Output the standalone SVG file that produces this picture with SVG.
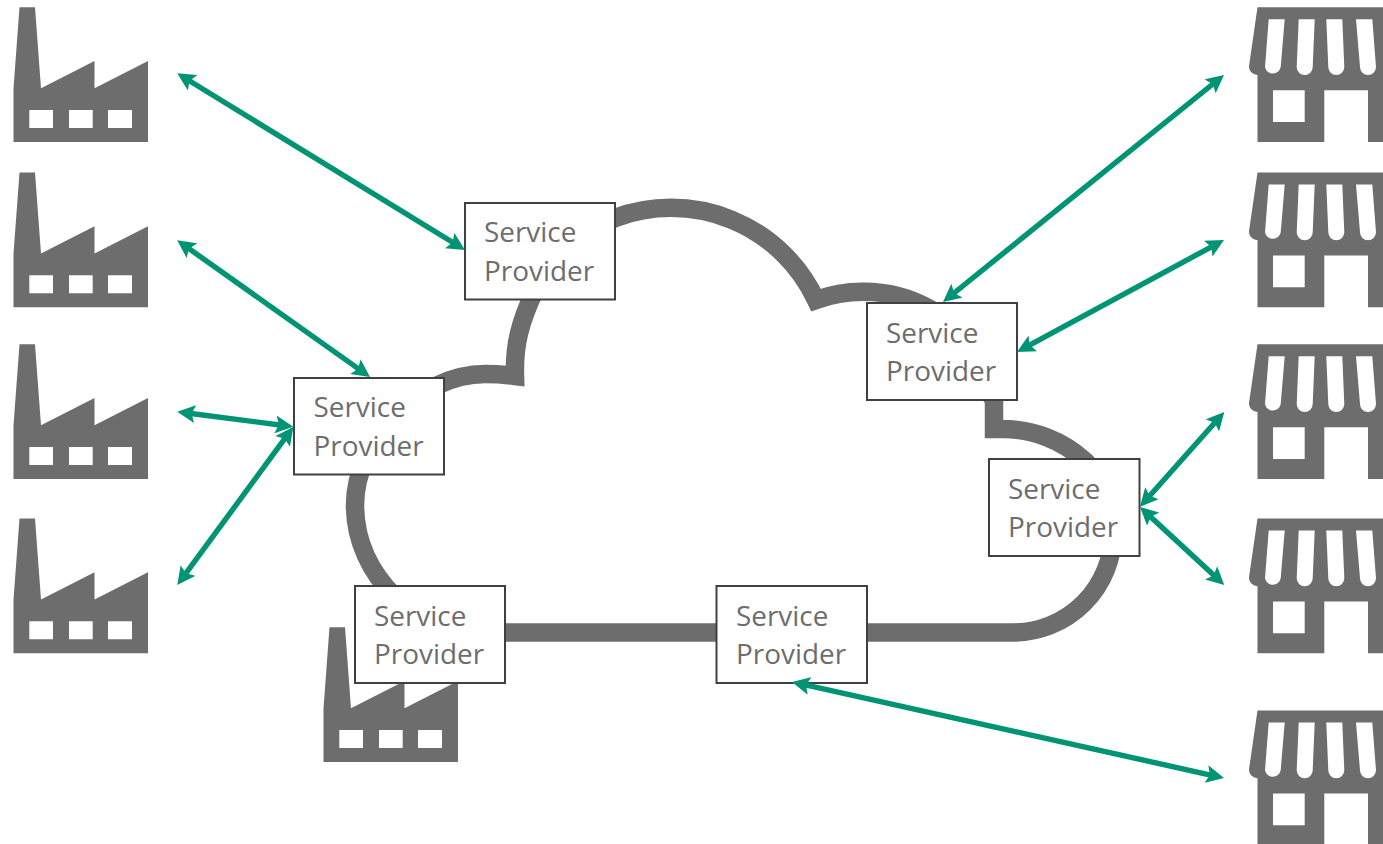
<svg xmlns="http://www.w3.org/2000/svg" width="1383" height="844" viewBox="0 0 1383 844">
<style>
.cloud{fill:none;stroke:#6d6d6d;stroke-width:18.500;stroke-linejoin:miter;stroke-miterlimit:10}
.box{fill:#fff;stroke:#404040;stroke-width:2}
.lbl{font-family:"Open Sans","Noto Sans",sans-serif;font-size:27.900px;fill:#6d6d6d}
.arrow{stroke:#009474;stroke-width:5.400;fill:none;marker-start:url(#head);marker-end:url(#head)}
.icon{fill:#6d6d6d;fill-rule:evenodd}
</style>
<defs>
<marker id="head" markerUnits="userSpaceOnUse" markerWidth="18" markerHeight="18" refX="10" refY="9" orient="auto-start-reverse" viewBox="0 0 18 18"><path d="M0 0L18 9L0 18L3.500 9Z" fill="#009474"/></marker>
<path id="factory" class="icon" d="M19.500 7.300H35L41 88.300L94.500 61V88.300L148 61V142H13.500V88.300ZM29.300 110V128H53V110ZM69 110V128H92.700V110ZM108 110V128H132V110Z"/>
<path id="shop" class="icon" d="M1257.500 7.300H1383V142H1368V90.300H1324.300V142H1257.500V75C1252 74 1249 71 1249 66ZM1273 90.300V122H1304.700V90.300ZM1268.700 19.300L1265 67A8 8 0 0 0 1280.700 67L1284.700 19.300ZM1298.700 19.300L1296.700 67A8 8 0 0 0 1312.700 67L1314.700 19.300ZM1326.300 19.300L1328.300 67A8 8 0 0 0 1344.300 67L1342.300 19.300ZM1356 19.300L1360 67A8 8 0 0 0 1376 67L1372.300 19.300Z"/>
</defs>
<rect width="1383" height="844" fill="#fff"/>
<g id="factory-1"><use href="#factory"/></g>
<g id="factory-2"><use href="#factory" y="165.300"/></g>
<g id="factory-3"><use href="#factory" y="337"/></g>
<g id="factory-4"><use href="#factory" y="511.300"/></g>
<g id="factory-5"><use href="#factory" x="310" y="620"/></g>
<g id="shop-1"><use href="#shop"/></g>
<g id="shop-2"><use href="#shop" y="165.300"/></g>
<g id="shop-3"><use href="#shop" y="337"/></g>
<g id="shop-4"><use href="#shop" y="511.300"/></g>
<g id="shop-5"><use href="#shop" y="703.300"/></g>
<g id="cloud"><path class="cloud" d="M1013 632.500H430L395 597C370 572 355 540 355 505C355 440 420 374 485 374Q500 374 515 376C514 345 520 322 535 290Q560 245 615 218A160 160 0 0 1 816 300A134 134 0 0 1 863 291.700A134 134 0 0 1 930 309L994 400V429H1003A122 122 0 0 1 1085 461Q1113 490 1113 532.500A100 100 0 0 1 1013 632.500Z"/></g>
<g id="sp-1"><rect class="box" x="465" y="203" width="150" height="96.500"/><text class="lbl" x="484" y="242">Service</text><text class="lbl" x="484" y="281">Provider</text></g>
<g id="sp-2"><rect class="box" x="294" y="378" width="150" height="96.500"/><text class="lbl" x="313.500" y="417">Service</text><text class="lbl" x="313.500" y="456">Provider</text></g>
<g id="sp-3"><rect class="box" x="867" y="303" width="150" height="97"/><text class="lbl" x="886" y="342.500">Service</text><text class="lbl" x="886" y="381">Provider</text></g>
<g id="sp-4"><rect class="box" x="989" y="459" width="150.500" height="97"/><text class="lbl" x="1008" y="498.500">Service</text><text class="lbl" x="1008" y="537">Provider</text></g>
<g id="sp-5"><rect class="box" x="355" y="586" width="150" height="97"/><text class="lbl" x="374" y="625.500">Service</text><text class="lbl" x="374" y="664">Provider</text></g>
<g id="sp-6"><rect class="box" x="716.500" y="586" width="150.500" height="97"/><text class="lbl" x="736" y="625.500">Service</text><text class="lbl" x="736" y="664">Provider</text></g>
<g id="connectors">
<path class="arrow" d="M184 77.500L458.200 245.800"/>
<path class="arrow" d="M183.700 244.900L363.500 372.400"/>
<path class="arrow" d="M185.200 412.700L285.400 425.700"/>
<path class="arrow" d="M182 578.600L288.600 433.400"/>
<path class="arrow" d="M1217.800 80L949.200 297"/>
<path class="arrow" d="M1217 243.800L1024 348.200"/>
<path class="arrow" d="M1219 418L1145.300 500.700"/>
<path class="arrow" d="M1218.400 579.600L1145.900 512.400"/>
<path class="arrow" d="M1216.200 776.300L799.800 683.700"/>
</g>
</svg>
